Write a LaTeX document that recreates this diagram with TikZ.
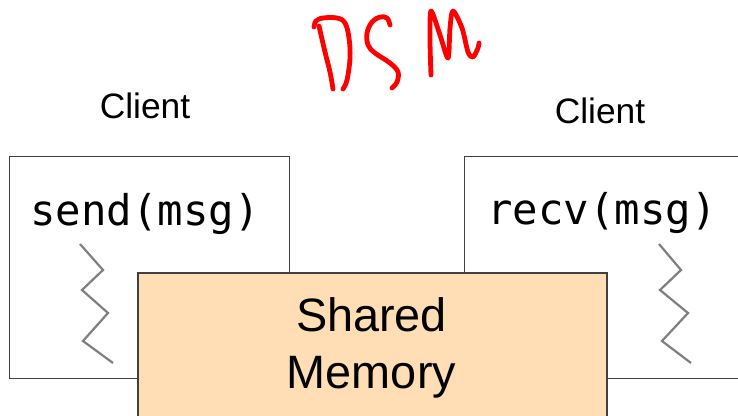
\documentclass[tikz,border=0pt]{standalone}
\usepackage{fontspec}
\setmainfont{Liberation Sans}
\newfontfamily\codefont{DejaVu Sans Mono}
\definecolor{boxline}{HTML}{404040}
\definecolor{memfill}{HTML}{FFDEB5}
\definecolor{zigzag}{HTML}{7F7F7F}
\begin{document}
\begin{tikzpicture}[x=1bp,y=-1bp,
  clientbox/.style={draw=boxline,line width=1bp,fill=white,rectangle,inner sep=0pt,
    anchor=north west,minimum width=280bp,minimum height=222bp},
  membox/.style={draw=boxline,line width=1.5bp,fill=memfill,rectangle,inner sep=0pt,
    anchor=north west,minimum width=469bp,minimum height=170bp},
  titletext/.style={font=\fontsize{35.5}{42}\selectfont,anchor=base,inner sep=0pt},
  codetext/.style={font=\codefont\fontsize{42.5}{50}\selectfont,anchor=base,inner sep=0pt},
  memtext/.style={font=\fontsize{47}{57}\selectfont,anchor=base,inner sep=0pt},
  wait/.style={draw=zigzag,line width=2.2bp,line join=miter},
  ink/.style={draw=red,line width=4.8bp,line cap=round,line join=round}]
\clip (0,0) rectangle (738,415);
\fill[white] (0,0) rectangle (738,415);

% handwritten title
\draw[ink] plot[smooth,tension=0.6] coordinates {(319,26) (325,52) (330,72) (333,89)};
\draw[ink] plot[smooth,tension=0.6] coordinates {(314,27) (316,21) (323,18) (337,18) (345,23) (349,38) (350,58) (347,80) (343,89)};
\draw[ink] plot[smooth,tension=0.6] coordinates {(390,25) (387,18) (380,17) (372,22) (367,33) (368,45) (375,53) (390,63) (398,72) (397,82) (392,88)};
\draw[ink] plot[smooth,tension=0.5] coordinates {(431,75) (430,40) (431,11) (440,35) (448,58) (450,28) (453,11) (462,28) (468,52) (473,57) (478,48) (479,43)};

% client labels
\node[titletext] (clientA) at (145,118) {Client};
\node[titletext] (clientB) at (600,123) {Client};

% client processes
\node[clientbox] (sender) at (9,156) {};
\node[clientbox] (receiver) at (464,156) {};
\node[codetext] (sendcall) at (145,225) {send(msg)};
\node[codetext] (recvcall) at (602,224) {recv(msg)};

% blocking indicators
\draw[wait] (80,244) -- (103,270) -- (82,290) -- (108,313) -- (83,341) -- (113,363);
\draw[wait] (659,244) -- (681,270) -- (660,290) -- (688,313) -- (662,341) -- (691,363);

% shared memory
\node[membox] (memory) at (137,272) {};
\node[memtext] (memA) at (371.5,331) {Shared};
\node[memtext] (memB) at (371.5,388) {Memory};
\end{tikzpicture}
\end{document}
